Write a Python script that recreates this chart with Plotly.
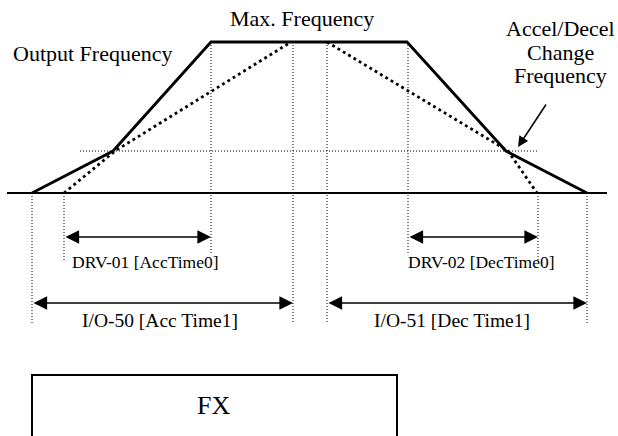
import plotly.graph_objects as go

# ---- data (time units, frequency in % of max) ----
t_output = [0, 81, 179, 375, 474, 555]
f_output = [0, 27.8, 100, 100, 27.8, 0]
t_acc_dot = [32, 83, 259]
f_acc_dot = [0, 27.8, 100]
t_dec_dot = [295, 476, 505]
f_dec_dot = [100, 27.8, 0]
max_freq = 100
change_freq = 27.8
acc_time0 = [32, 179]
dec_time0 = [376, 506]
acc_time1 = [0, 261]
dec_time1 = [295, 555]
labels = {
    "out": "Output Frequency",
    "max": "Max. Frequency",
    "chg": ["Accel/Decel", "Change", "Frequency"],
    "drv01": "DRV-01 [AccTime0]",
    "drv02": "DRV-02 [DecTime0]",
    "io50": "I/O-50 [Acc Time1]",
    "io51": "I/O-51 [Dec Time1]",
    "fx": "FX",
}

W, H = 618, 436
X0 = 32          # pixel of t=0
Y0 = 193         # pixel of f=0
SC = 1.51        # px per % frequency


def fy(py):
    return (Y0 - py) / SC


def fx(px):
    return px - X0


FONT = "Liberation Serif, Times New Roman, serif"
fig = go.Figure()

# baseline
fig.add_trace(go.Scatter(x=[fx(7), fx(607)], y=[0, 0], mode="lines",
                         line=dict(color="black", width=2), hoverinfo="skip"))
# dotted accel / decel curves
fig.add_trace(go.Scatter(x=t_acc_dot, y=f_acc_dot, mode="lines",
                         line=dict(color="black", width=2.8, dash="2.8px,3.4px"), hoverinfo="skip"))
fig.add_trace(go.Scatter(x=t_dec_dot, y=f_dec_dot, mode="lines",
                         line=dict(color="black", width=2.8, dash="2.8px,3.4px"), hoverinfo="skip"))
# output frequency
fig.add_trace(go.Scatter(x=t_output, y=f_output, mode="lines",
                         line=dict(color="black", width=2.8), hoverinfo="skip"))

guide = dict(color="black", width=1, dash="1px,2px")
shapes = []
# horizontal change-frequency guide
shapes.append(dict(type="line", x0=fx(80), x1=t_dec_dot[2], y0=change_freq, y1=change_freq,
                   xref="x", yref="y", line=guide))
# vertical guides
verts = [
    (t_output[0], 0, fy(323)),
    (t_acc_dot[0], 0, fy(260)),
    (acc_time0[1], max_freq, fy(253)),
    (acc_time1[1], max_freq, fy(323)),
    (dec_time1[0], max_freq, fy(323)),
    (dec_time0[0], max_freq, fy(255)),
    (dec_time0[1], 0, fy(260)),
    (t_output[-1], 0, fy(323)),
]
for xv, ya, yb in verts:
    shapes.append(dict(type="line", x0=xv, x1=xv, y0=ya, y1=yb, xref="x", yref="y", line=guide))
# FX box
shapes.append(dict(type="rect", x0=fx(32), x1=fx(397), y0=fy(375), y1=fy(445),
                   xref="x", yref="y", line=dict(color="black", width=2), fillcolor="rgba(0,0,0,0)"))

annotations = []


def darrow(xa, xb, y):
    annotations.append(dict(x=xb, y=y, ax=xa, ay=y, xref="x", yref="y", axref="x", ayref="y",
                            text="", showarrow=True, arrowhead=2, arrowside="end+start",
                            arrowsize=1.6, arrowwidth=1.7, arrowcolor="black", standoff=0, startstandoff=0))


darrow(acc_time0[0], acc_time0[1], fy(237))
darrow(dec_time0[0], dec_time0[1], fy(237))
darrow(acc_time1[0], acc_time1[1], fy(303))
darrow(dec_time1[0], dec_time1[1], fy(303))

# callout arrow to change frequency point
annotations.append(dict(x=fx(518), y=fy(147), ax=fx(547), ay=fy(103), xref="x", yref="y",
                        axref="x", ayref="y", text="", showarrow=True, arrowhead=2,
                        arrowsize=1.4, arrowwidth=1.5, arrowcolor="black", standoff=0))


def txt(s, px, py, size):
    annotations.append(dict(x=fx(px), y=fy(py), xref="x", yref="y", text=s, showarrow=False,
                            font=dict(family=FONT, size=size, color="black"),
                            xanchor="center", yanchor="middle"))


txt(labels["out"], 92, 53, 22)
txt(labels["max"], 302, 18, 22)
txt(labels["chg"][0], 560, 28, 22)
txt(labels["chg"][1], 560, 52, 22)
txt(labels["chg"][2], 560, 75, 22)
txt(labels["drv01"], 145, 262, 17.5)
txt(labels["drv02"], 481, 262, 17.5)
txt(labels["io50"], 160, 320, 19.5)
txt(labels["io51"], 452, 320, 19.5)
txt(labels["fx"], 213, 405, 26)

fig.update_layout(
    width=W, height=H, margin=dict(l=0, r=0, t=0, b=0),
    paper_bgcolor="white", plot_bgcolor="white", showlegend=False,
    xaxis=dict(range=[fx(0), fx(W)], visible=False, fixedrange=True),
    yaxis=dict(range=[fy(H), fy(0)], visible=False, fixedrange=True),
    shapes=shapes, annotations=annotations,
)

fig.write_html("out.html", config={"displayModeBar": False})

# remove the default page margin so the figure sits at the window's corner
with open("out.html", "r", encoding="utf-8") as fh:
    html = fh.read()
html = html.replace("<body>", '<body style="margin:0;overflow:hidden">', 1)
with open("out.html", "w", encoding="utf-8") as fh:
    fh.write(html)
